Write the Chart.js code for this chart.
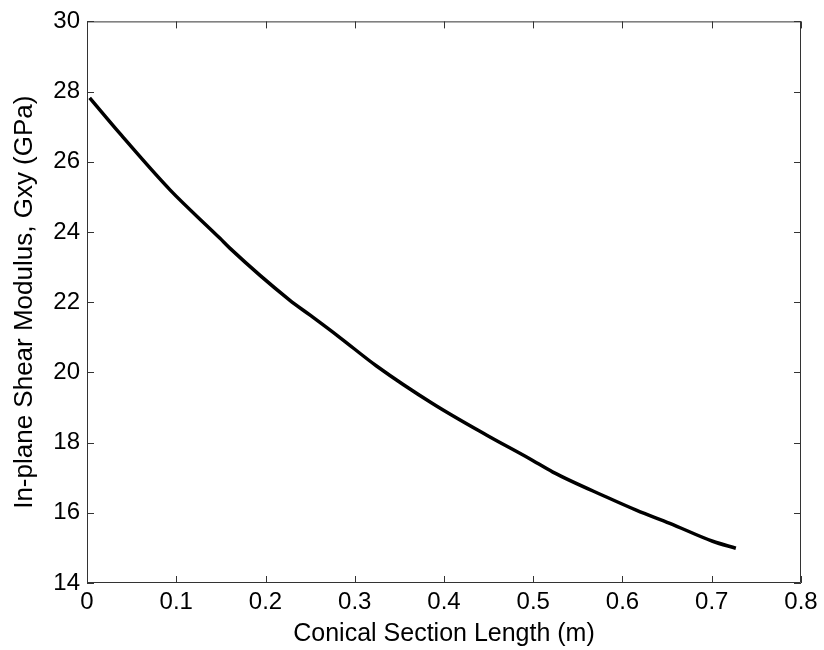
<!DOCTYPE html>
<html>
<head>
<meta charset="utf-8">
<script src="https://cdn.jsdelivr.net/npm/chart.js@4"></script>
<style>
  html, body { margin: 0; padding: 0; background: #fff; }
  #wrap { width: 824px; height: 650px; }
</style>
</head>
<body>
<div id="wrap"><canvas id="shear-modulus-chart" width="824" height="650"></canvas></div>
<script>
// values
const sectionLength = [0.003, 0.037, 0.093, 0.149, 0.160, 0.227, 0.250, 0.283, 0.324, 0.388, 0.448, 0.496, 0.522, 0.582, 0.616, 0.653, 0.701, 0.727];
const shearModulus = [27.82, 26.80, 25.20, 23.82, 23.54, 22.06, 21.63, 21.00, 20.19, 19.10, 18.21, 17.54, 17.16, 16.45, 16.07, 15.70, 15.19, 14.99];

const xTicks = [0, 0.1, 0.2, 0.3, 0.4, 0.5, 0.6, 0.7, 0.8];
const yTicks = [14, 16, 18, 20, 22, 24, 26, 28, 30];

const fontFamily = '"Liberation Sans", Arial, Helvetica, sans-serif';

// MATLAB style box with ticks pointing inward on all four sides
const boxTicks = {
    id: 'boxTicks',
    afterDraw(chart) {
        const ctx = chart.ctx;
        const area = chart.chartArea;
        const xs = chart.scales.x;
        const ys = chart.scales.y;
        const len = 7;
        ctx.save();
        ctx.strokeStyle = '#333';
        ctx.lineWidth = 1;
        ctx.beginPath();
        ctx.rect(area.left + 0.5, area.top + 0.5, area.right - area.left - 1, area.bottom - area.top - 1);
        xTicks.forEach(function (v) {
            const px = Math.round(xs.getPixelForValue(v)) + 0.5;
            ctx.moveTo(px, area.bottom);
            ctx.lineTo(px, area.bottom - len);
            ctx.moveTo(px, area.top);
            ctx.lineTo(px, area.top + len);
        });
        yTicks.forEach(function (v) {
            const py = Math.round(ys.getPixelForValue(v)) + 0.5;
            ctx.moveTo(area.left, py);
            ctx.lineTo(area.left + len, py);
            ctx.moveTo(area.right, py);
            ctx.lineTo(area.right - len, py);
        });
        ctx.stroke();
        ctx.restore();
    }
};

const shearChart = document.querySelector('#shear-modulus-chart').getContext('2d');

const shearGraph = new Chart(shearChart, {
    type: 'line',
    data: {
        datasets: [
            {
                label: 'Gxy',
                data: sectionLength.map(function (x, i) { return { x: x, y: shearModulus[i] }; }),
                borderColor: '#000',
                borderWidth: 3.5,
                backgroundColor: '#000',
                pointRadius: 0,
                cubicInterpolationMode: 'monotone',
                fill: false
            }
        ]
    },
    options: {
        responsive: false,
        animation: false,
        layout: {
            padding: { top: 20, right: 23, left: 0, bottom: 0 }
        },
        plugins: {
            legend: { display: false },
            tooltip: { enabled: false }
        },
        scales: {
            x: {
                type: 'linear',
                min: 0,
                max: 0.8,
                afterBuildTicks: function (scale) {
                    scale.ticks = xTicks.map(function (v) { return { value: v }; });
                },
                afterFit: function (scale) { scale.height = 67; },
                grid: { display: false, drawTicks: false },
                border: { display: false },
                ticks: {
                    color: '#000',
                    padding: 5,
                    maxRotation: 0,
                    autoSkip: false,
                    font: { family: fontFamily, size: 24 },
                    callback: function (v) { return String(Math.round(v * 10) / 10); }
                },
                title: {
                    display: true,
                    text: 'Conical Section Length (m)',
                    color: '#000',
                    padding: { top: 1, bottom: 1 },
                    font: { family: fontFamily, size: 25 }
                }
            },
            y: {
                type: 'linear',
                min: 14,
                max: 30,
                afterBuildTicks: function (scale) {
                    scale.ticks = yTicks.map(function (v) { return { value: v }; });
                },
                afterFit: function (scale) { scale.width = 87; },
                grid: { display: false, drawTicks: false },
                border: { display: false },
                ticks: {
                    color: '#000',
                    padding: 7,
                    autoSkip: false,
                    font: { family: fontFamily, size: 24 }
                },
                title: {
                    display: true,
                    text: 'In-plane Shear Modulus, Gxy (GPa)',
                    color: '#000',
                    padding: { top: 9, bottom: 9 },
                    font: { family: fontFamily, size: 26 }
                }
            }
        }
    },
    plugins: [boxTicks]
});
</script>
</body>
</html>
